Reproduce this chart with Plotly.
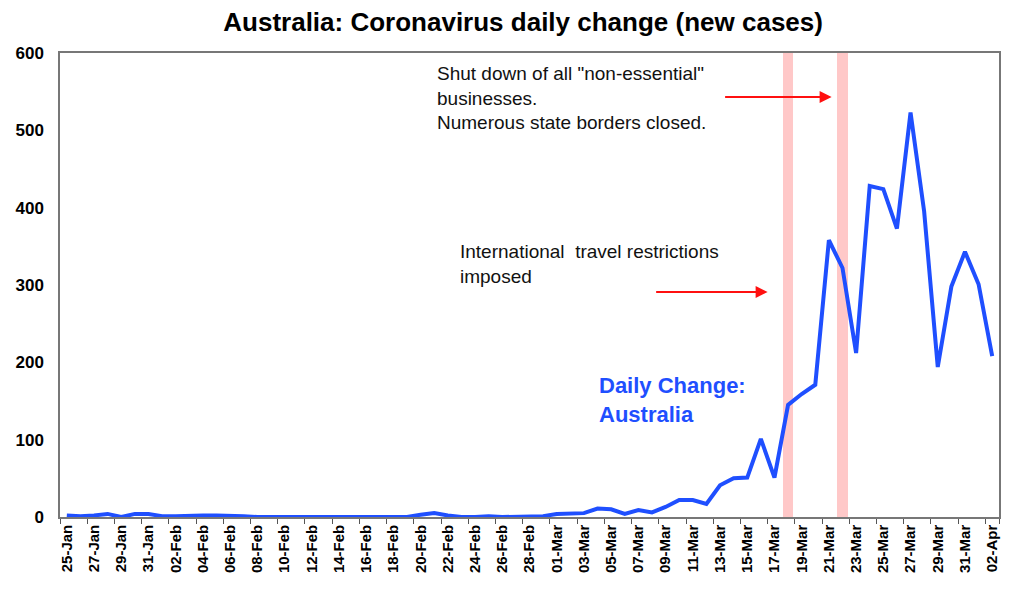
import pandas as pd
import plotly.graph_objects as go

# daily new cases, 25-Jan to 02-Apr 2020
dates = pd.date_range("2020-01-25", "2020-04-02", freq="D").strftime("%d-%b").tolist()
new_cases = [
    2, 1, 2, 4, 0, 4, 4,                                   # 25-31 Jan
    1, 1, 2, 2, 2, 2, 1, 0, 0, 0, 0, 0, 0, 0, 0, 0, 0, 0,  # 01-18 Feb
    0, 3, 5, 2, 0, 0, 1, 0, 0, 1, 1,                       # 19-29 Feb
    4, 4, 5, 11, 10, 4, 9, 6, 13, 22, 22, 17, 41, 50, 51,  # 01-15 Mar
    101, 51, 145, 159, 171, 358, 322, 212, 428, 424, 373,  # 16-26 Mar
    523, 395, 194, 298, 343, 301, 208,                     # 27 Mar - 02 Apr
]

# policy dates highlighted with pink bands
band_dates = ["18-Mar", "22-Mar"]
band_top = [600, 600]

fig = go.Figure()

fig.add_trace(go.Bar(
    x=band_dates, y=band_top, width=0.78,
    marker=dict(color="rgba(255,190,190,0.85)", line=dict(width=0)),
    hoverinfo="skip", showlegend=False,
))

fig.add_trace(go.Scatter(
    x=dates, y=new_cases, mode="lines",
    line=dict(color="#1f4fff", width=4),
    showlegend=False,
))

txt = dict(family="Liberation Sans, Arial, sans-serif", size=19, color="#111111")
blue = dict(family="Liberation Sans, Arial, sans-serif", size=22, color="#1f4fff")

annotations = [
    dict(text='Shut down of all "non-essential"<br>businesses.<br>Numerous state borders closed.',
         xref="paper", yref="paper", x=0.3994, y=0.903, xanchor="left", yanchor="middle",
         align="left", showarrow=False, font=txt),
    dict(text="International  travel restrictions<br>imposed",
         xref="paper", yref="paper", x=0.424, y=0.545, xanchor="left", yanchor="middle",
         align="left", showarrow=False, font=txt),
    dict(text="<b>Daily Change:<br>Australia</b>", xref="paper", yref="paper", x=0.572, y=0.252,
         xanchor="left", yanchor="middle", align="left", showarrow=False, font=blue),
    # red arrows pointing at the bands
    dict(x=56.2, y=543, xref="x", yref="y", ax=-108, ay=0, text="",
         showarrow=True, arrowhead=2, arrowsize=1.2, arrowwidth=2, arrowcolor="#ff1010"),
    dict(x=51.5, y=291, xref="x", yref="y", ax=-113, ay=0, text="",
         showarrow=True, arrowhead=2, arrowsize=1.2, arrowwidth=2, arrowcolor="#ff1010"),
]

# page body adds an 8px offset, so the figure is sized to fit the window
fig.update_layout(
    width=1016, height=587,
    margin=dict(l=52, r=25, t=45, b=78),
    paper_bgcolor="white", plot_bgcolor="white",
    title=dict(text="<b>Australia: Coronavirus daily change (new cases)</b>",
               x=0.507, xanchor="center", y=0.976, yanchor="middle",
               font=dict(family="Liberation Sans, Arial, sans-serif", size=26, color="black")),
    font=dict(family="Liberation Sans, Arial, sans-serif", color="black"),
    annotations=annotations,
    bargap=0,
)

fig.update_xaxes(
    type="category", categoryorder="array", categoryarray=dates,
    range=[-0.5, len(dates) - 0.5],
    tickmode="array", tickvals=dates[::2], ticktext=[f"<b>{d}</b>" for d in dates[::2]],
    tickangle=-90, tickfont=dict(size=15),
    ticks="outside", ticklen=5, tickcolor="#555555", tickson="boundaries",
    showline=True, linecolor="#777777", linewidth=1.5, mirror=True,
    showgrid=False, zeroline=False, automargin=False,
)
fig.update_yaxes(
    range=[0, 600], dtick=100,
    tickfont=dict(size=17), tickprefix="<b>", ticksuffix="</b>",
    ticks="", ticklabelstandoff=11,
    showline=True, linecolor="#777777", linewidth=1.5, mirror=True,
    showgrid=False, zeroline=False, automargin=False,
)

fig.write_html("out.html")
